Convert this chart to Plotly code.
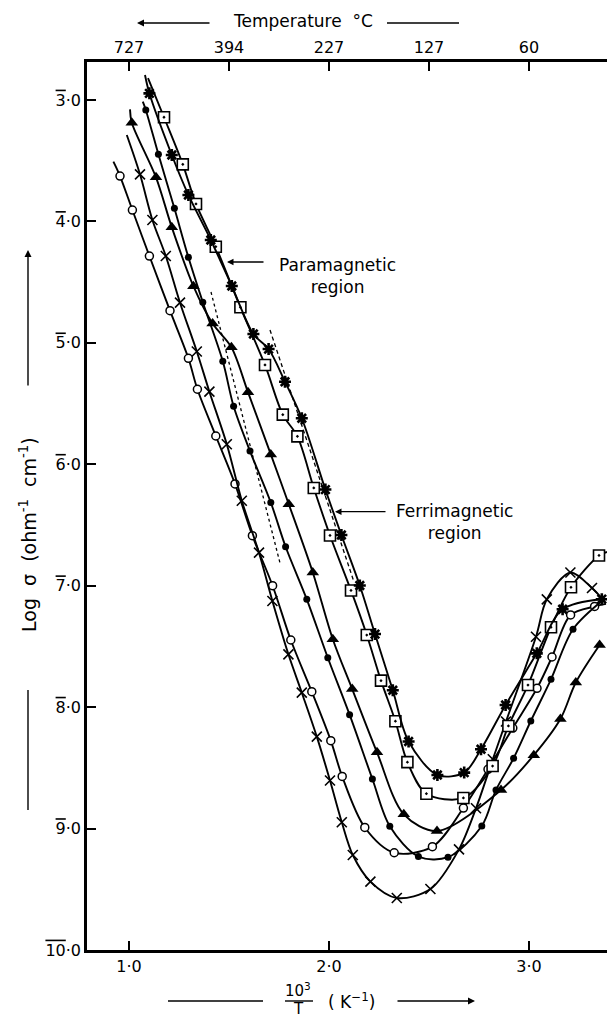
import plotly.graph_objects as go

# ---------------------------------------------------------------
# Conductivity (log sigma, ohm^-1 cm^-1) versus reciprocal temperature
# 10^3/T (K^-1) for six ferrite samples.
# ---------------------------------------------------------------

# Sample marked with a star
star_x = [1.102, 1.214, 1.297, 1.409, 1.514, 1.622, 1.698, 1.780, 1.864, 1.982,
          2.062, 2.154, 2.230, 2.319, 2.398, 2.542, 2.676, 2.760, 2.883, 3.039,
          3.168, 3.364]
star_y = [-2.945, -3.453, -3.782, -4.153, -4.532, -4.927, -5.051, -5.320, -5.621, -6.208,
          -6.582, -6.998, -7.398, -7.861, -8.283, -8.559, -8.539, -8.347, -7.982, -7.557,
          -7.194, -7.111]
star_start = (1.080, -2.794)

# Sample marked with a dotted square
sq_x = [1.175, 1.269, 1.335, 1.434, 1.557, 1.680, 1.769, 1.842, 1.924, 2.005,
        2.110, 2.189, 2.260, 2.332, 2.392, 2.487, 2.672, 2.818, 2.897, 2.995,
        3.110, 3.210, 3.350]
sq_y = [-3.142, -3.530, -3.856, -4.208, -4.707, -5.182, -5.591, -5.770, -6.195, -6.586,
        -7.039, -7.406, -7.782, -8.116, -8.453, -8.713, -8.748, -8.485, -8.155, -7.818,
        -7.342, -7.013, -6.751]
sq_start = (1.095, -2.819)
sq_end = (3.390, -6.722)

# Sample marked with a filled triangle
tri_x = [1.014, 1.135, 1.214, 1.322, 1.418, 1.512, 1.595, 1.709, 1.799, 1.919,
         2.019, 2.116, 2.240, 2.374, 2.540, 2.860, 3.024, 3.157, 3.234, 3.353]
tri_y = [-3.187, -3.637, -4.048, -4.533, -4.841, -5.036, -5.406, -5.919, -6.329, -6.891,
         -7.441, -7.851, -8.372, -8.883, -9.020, -8.682, -8.396, -8.098, -7.797, -7.488]
tri_start = (1.005, -3.077)

# Sample marked with a filled circle
dot_x = [1.084, 1.147, 1.227, 1.297, 1.369, 1.469, 1.523, 1.605, 1.709, 1.783,
         1.889, 1.994, 2.103, 2.217, 2.304, 2.447, 2.595, 2.764, 2.835, 2.923,
         3.009, 3.110, 3.220]
dot_y = [-3.082, -3.447, -3.892, -4.295, -4.665, -5.152, -5.522, -5.891, -6.315, -6.679,
         -7.112, -7.593, -8.062, -8.592, -8.981, -9.230, -9.236, -8.979, -8.682, -8.421,
         -8.114, -7.771, -7.359]
dot_start = (1.069, -3.014)
dot_end = (3.370, -7.118)

# Sample marked with an open circle
ring_x = [0.955, 1.017, 1.102, 1.205, 1.297, 1.342, 1.434, 1.530, 1.617, 1.718,
          1.809, 1.914, 2.009, 2.066, 2.179, 2.326, 2.517, 2.672, 2.795, 2.919,
          3.040, 3.115, 3.208, 3.328]
ring_y = [-3.626, -3.906, -4.285, -4.735, -5.127, -5.382, -5.767, -6.162, -6.588, -7.000,
          -7.447, -7.873, -8.276, -8.571, -8.991, -9.199, -9.149, -8.831, -8.512, -8.172,
          -7.845, -7.587, -7.241, -7.171]
ring_start = (0.922, -3.508)
ring_end = (3.385, -7.150)

# Sample marked with a cross
cross_x = [1.055, 1.117, 1.184, 1.255, 1.339, 1.402, 1.489, 1.564, 1.650, 1.717,
           1.797, 1.864, 1.939, 2.005, 2.064, 2.119, 2.207, 2.339, 2.507, 2.650,
           2.735, 2.819, 2.885, 3.035, 3.089, 3.207, 3.315]
cross_y = [-3.612, -3.988, -4.285, -4.669, -5.071, -5.402, -5.835, -6.300, -6.728, -7.126,
           -7.565, -7.881, -8.243, -8.604, -8.948, -9.218, -9.437, -9.572, -9.498, -9.171,
           -8.833, -8.429, -8.118, -7.420, -7.112, -6.891, -7.019]
cross_start = (0.989, -3.288)
cross_end = (3.375, -7.126)

# Straight-line extrapolations of the paramagnetic region
dotted_x = [1.410, 1.755]
dotted_y = [-4.581, -6.813]
dashed_x = [1.705, 2.125]
dashed_y = [-4.894, -6.969]

# Axis ticks (log sigma written in bar notation: 3-bar = -3)
x_ticks = [1.0, 2.0, 3.0]
x_ticklabels = ["1·0", "2·0", "3·0"]
temp_ticks = [1.0, 1.5, 2.0, 2.5, 3.0]
temp_ticklabels = ["727", "394", "227", "127", "60"]
y_ticks = [-3, -4, -5, -6, -7, -8, -9, -10]
y_characteristics = ["3", "4", "5", "6", "7", "8", "9", "10"]
y_ticklabels = ['<span style="text-decoration:overline">%s</span>·0' % c
                for c in y_characteristics]

FONT = "DejaVu Sans"
INK = "black"

fig = go.Figure()


def add_series(xs, ys, start, end, marker):
    cx = [start[0]] + list(xs) + ([end[0]] if end else [])
    cy = [start[1]] + list(ys) + ([end[1]] if end else [])
    fig.add_trace(go.Scatter(x=cx, y=cy, mode="lines",
                             line=dict(color=INK, width=1.9, shape="spline", smoothing=0.9),
                             hoverinfo="skip"))
    fig.add_trace(go.Scatter(x=xs, y=ys, mode="markers", marker=marker, hoverinfo="skip"))


add_series(ring_x, ring_y, ring_start, ring_end,
           dict(symbol="circle", size=8, color="white", line=dict(color=INK, width=1.5)))
add_series(cross_x, cross_y, cross_start, cross_end,
           dict(symbol="x-thin-open", size=10, color=INK, line=dict(color=INK, width=1.6)))
add_series(dot_x, dot_y, dot_start, dot_end,
           dict(symbol="circle", size=7, color=INK, line=dict(width=0)))
add_series(tri_x, tri_y, tri_start, None,
           dict(symbol="triangle-up", size=11, color=INK, line=dict(width=0)))
add_series(sq_x, sq_y, sq_start, sq_end,
           dict(symbol="square-dot", size=11, color="white", line=dict(color=INK, width=1.6)))
add_series(star_x, star_y, star_start, None,
           dict(symbol="asterisk-open", size=10, color=INK, line=dict(color=INK, width=2.6)))

# extrapolation lines, drawn on the temperature axis (same scale)
fig.add_trace(go.Scatter(x=dotted_x, y=dotted_y, mode="lines", xaxis="x2",
                         line=dict(color=INK, width=1.3, dash="dot"), hoverinfo="skip"))
fig.add_trace(go.Scatter(x=dashed_x, y=dashed_y, mode="lines", xaxis="x2",
                         line=dict(color=INK, width=1.3, dash="4px,3px"), hoverinfo="skip"))

PL, PR, PT, PB = 87, 607, 62, 950  # plot-area edges in pixels


def px(x):
    return (x - PL) / (PR - PL)


def py(y):
    return (PB - y) / (PB - PT)


axis_common = dict(showline=True, linecolor=INK, linewidth=2.5, ticks="inside",
                   ticklen=9, tickwidth=2, tickcolor=INK, showgrid=False, zeroline=False,
                   tickfont=dict(family=FONT, size=16, color=INK))

fig.update_layout(
    width=607, height=1017,
    margin=dict(l=PL, r=607 - PR, t=PT, b=1017 - PB, pad=0),
    paper_bgcolor="white", plot_bgcolor="white",
    showlegend=False,
    xaxis=dict(range=[0.79, 3.39], tickvals=x_ticks, ticktext=x_ticklabels, **axis_common),
    xaxis2=dict(range=[0.79, 3.39], overlaying="x", side="top", tickvals=temp_ticks,
                ticktext=temp_ticklabels, **axis_common),
    yaxis=dict(range=[-10.0, -2.687], tickvals=y_ticks, ticktext=y_ticklabels, **axis_common),
)

ann = []
txt = dict(family=FONT, size=17, color=INK)


def label(x, y, text, font=txt, **kw):
    ann.append(dict(x=px(x), y=py(y), xref="paper", yref="paper", text=text,
                    showarrow=False, font=font, xanchor="center", yanchor="middle", **kw))


def arrow(x, y, ax, ay, width=1.4):
    ann.append(dict(x=px(x), y=py(y), xref="paper", yref="paper", text="", showarrow=True,
                    ax=ax, ay=ay, arrowhead=2, arrowsize=1, arrowwidth=width, arrowcolor=INK))


# top title with arrow pointing to higher temperature
label(303, 21, "Temperature  °C")
arrow(137, 23, 74, 0)

# bottom title 10^3 / T (K^-1)
small = dict(family=FONT, size=15, color=INK)
label(298, 990, "10<sup>3</sup>", font=small)
label(298.5, 1009, "T", font=small)
label(351, 1001, "( K<sup>−1</sup>)")
arrow(475, 1001, -79, 0)

# left title
label(28, 535, "Log  σ  (ohm<sup>-1</sup>  cm<sup>-1</sup>)",
      font=dict(family=FONT, size=19, color=INK), textangle=-90)
arrow(28, 250, 0, 137)

# region labels
label(337, 275.5, "Paramagnetic<br>region", align="center")
arrow(227, 262, 38, 0, width=1.3)
label(454, 521.5, "Ferrimagnetic<br>region", align="center")
arrow(335, 511.7, 52, 0, width=1.3)

fig.update_layout(annotations=ann)

line_style = dict(color=INK, width=1.4)
fig.add_shape(type="line", xref="paper", yref="paper", x0=px(387), x1=px(459),
              y0=py(23), y1=py(23), line=line_style)
fig.add_shape(type="line", xref="paper", yref="paper", x0=px(168), x1=px(263),
              y0=py(1001), y1=py(1001), line=line_style)
fig.add_shape(type="line", xref="paper", yref="paper", x0=px(285), x1=px(313),
              y0=py(1001), y1=py(1001), line=line_style)
fig.add_shape(type="line", xref="paper", yref="paper", x0=px(28), x1=px(28),
              y0=py(690), y1=py(810), line=line_style)

fig.write_html("out.html")
